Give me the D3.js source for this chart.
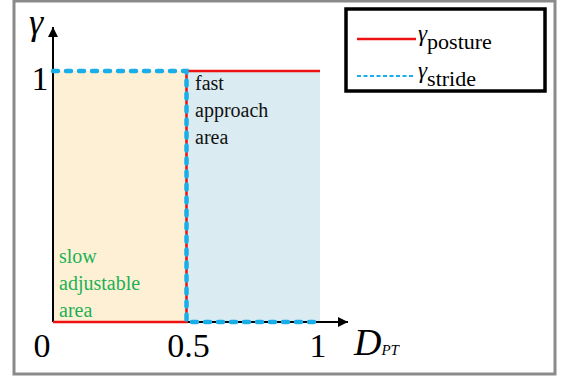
<!DOCTYPE html>
<html>
<head>
<meta charset="utf-8">
<script src="https://cdn.jsdelivr.net/npm/d3@7"></script>
<style>
  html, body { margin: 0; padding: 0; background: #fff; }
  svg { display: block; }
  svg text { font-family: 'Liberation Serif', 'Times New Roman', Times, serif; }
</style>
</head>
<body>
<svg id="chart" width="562" height="380"></svg>
<script>
// Switching weights along the normalised distance D_PT
const posturePoints = [[0, 0], [0.5, 0], [0.5, 1], [1, 1]];
const stridePoints  = [[0, 1], [0.5, 1], [0.5, 0], [1, 0]];
// Shaded regions
const regions = [
  { name: "slow", x0: 0, x1: 0.5, y0: 0, y1: 1, fill: "#fdf0d4" },
  { name: "fast", x0: 0.5, x1: 1, y0: 0, y1: 1, fill: "#daebf2" }
];
const xTicks = [0, 0.5, 1];
const xTickLabels = ["0", "0.5", "1"];
const yTicks = [1];
const fastLabel = ["fast", "approach", "area"];
const slowLabel = ["slow", "adjustable", "area"];

const SERIF = "'Liberation Serif', 'Times New Roman', Times, serif";
const svg = d3.select("#chart").attr("font-family", SERIF);

// Outer frame
svg.append("rect").attr("x", 14).attr("y", 1).attr("width", 541).attr("height", 373)
  .attr("fill", "none").attr("stroke", "#8a8a8a").attr("stroke-width", 3);

const x = d3.scaleLinear().domain([0, 1]).range([53, 320]);
const y = d3.scaleLinear().domain([0, 1]).range([322, 71]);

// Regions
svg.selectAll("rect.region").data(regions).join("rect")
  .attr("class", "region")
  .attr("x", d => x(d.x0)).attr("y", d => y(d.y1))
  .attr("width", d => x(d.x1) - x(d.x0)).attr("height", d => y(d.y0) - y(d.y1))
  .attr("fill", d => d.fill);

// Arrow marker
const defs = svg.append("defs");
defs.append("marker").attr("id", "arrow").attr("viewBox", "0 0 10 10")
  .attr("refX", 10).attr("refY", 5).attr("markerWidth", 18).attr("markerHeight", 10)
  .attr("markerUnits", "userSpaceOnUse").attr("orient", "auto")
  .append("path").attr("d", "M0,0 L10,5 L0,10 Z").attr("fill", "#000");

// Axes
svg.append("line").attr("x1", x(0)).attr("y1", y(0)).attr("x2", 348).attr("y2", y(0))
  .attr("stroke", "#000").attr("stroke-width", 2).attr("marker-end", "url(#arrow)");
svg.append("line").attr("x1", x(0)).attr("y1", y(0)).attr("x2", x(0)).attr("y2", 27)
  .attr("stroke", "#000").attr("stroke-width", 2).attr("marker-end", "url(#arrow)");

const line = d3.line().x(d => x(d[0])).y(d => y(d[1]));

// γ_posture
svg.append("path").datum(posturePoints).attr("d", line)
  .attr("fill", "none").attr("stroke", "#ee1111").attr("stroke-width", 2.5);
// γ_stride
svg.append("path").datum(stridePoints).attr("d", line)
  .attr("fill", "none").attr("stroke", "#1aaee8").attr("stroke-width", 4.5)
  .attr("stroke-dasharray", "5,8").attr("stroke-linecap", "round");

// Tick labels
const tickShift = [-11, 2, -2];
svg.selectAll("text.xt").data(xTicks).join("text").attr("class", "xt")
  .attr("x", (d, i) => x(d) + tickShift[i]).attr("y", 357).attr("text-anchor", "middle")
  .attr("font-size", 34).attr("font-family", SERIF).text((d, i) => xTickLabels[i]);
svg.selectAll("text.yt").data(yTicks).join("text").attr("class", "yt")
  .attr("x", 40).attr("y", d => y(d) + 19).attr("text-anchor", "middle")
  .attr("font-size", 34).attr("font-family", SERIF).text(d => d);

// Axis titles
svg.append("text").attr("x", 29).attr("y", 34).attr("font-size", 36)
  .attr("font-style", "italic").attr("font-family", SERIF).text("γ");
const dt = svg.append("text").attr("x", 354).attr("y", 355).attr("font-size", 38)
  .attr("font-style", "italic").attr("font-family", SERIF);
dt.append("tspan").text("D");
dt.append("tspan").attr("font-size", 15).text("PT");

// Region labels
svg.append("text").attr("font-size", 20).attr("fill", "#111").attr("font-family", SERIF)
  .selectAll("tspan").data(fastLabel).join("tspan")
  .attr("x", 195).attr("y", (d, i) => 90 + i * 27).text(d => d);
svg.append("text").attr("font-size", 20).attr("fill", "#1db054").attr("font-family", SERIF)
  .selectAll("tspan").data(slowLabel).join("tspan")
  .attr("x", 59).attr("y", (d, i) => 263 + i * 27).text(d => d);

// Legend
const lg = svg.append("g");
lg.append("rect").attr("x", 346).attr("y", 9).attr("width", 199).attr("height", 82)
  .attr("fill", "#fff").attr("stroke", "#000").attr("stroke-width", 3.5);
const legendItems = [
  { sub: "posture", y: 39, stroke: "#ee1111", w: 2.5, dash: null, x2: 416 },
  { sub: "stride", y: 76, stroke: "#1aaee8", w: 2, dash: "4,2.5", x2: 413 }
];
legendItems.forEach(it => {
  lg.append("line").attr("x1", 357).attr("x2", it.x2)
    .attr("y1", it.y).attr("y2", it.y).attr("stroke", it.stroke)
    .attr("stroke-width", it.w).attr("stroke-dasharray", it.dash);
  const t = lg.append("text").attr("x", 418).attr("y", it.y + 2).attr("font-size", 23)
    .attr("font-family", SERIF);
  t.append("tspan").attr("font-style", "italic").text("γ");
  t.append("tspan").attr("font-size", 22).attr("dy", 8).text(it.sub);
});
</script>
</body>
</html>
